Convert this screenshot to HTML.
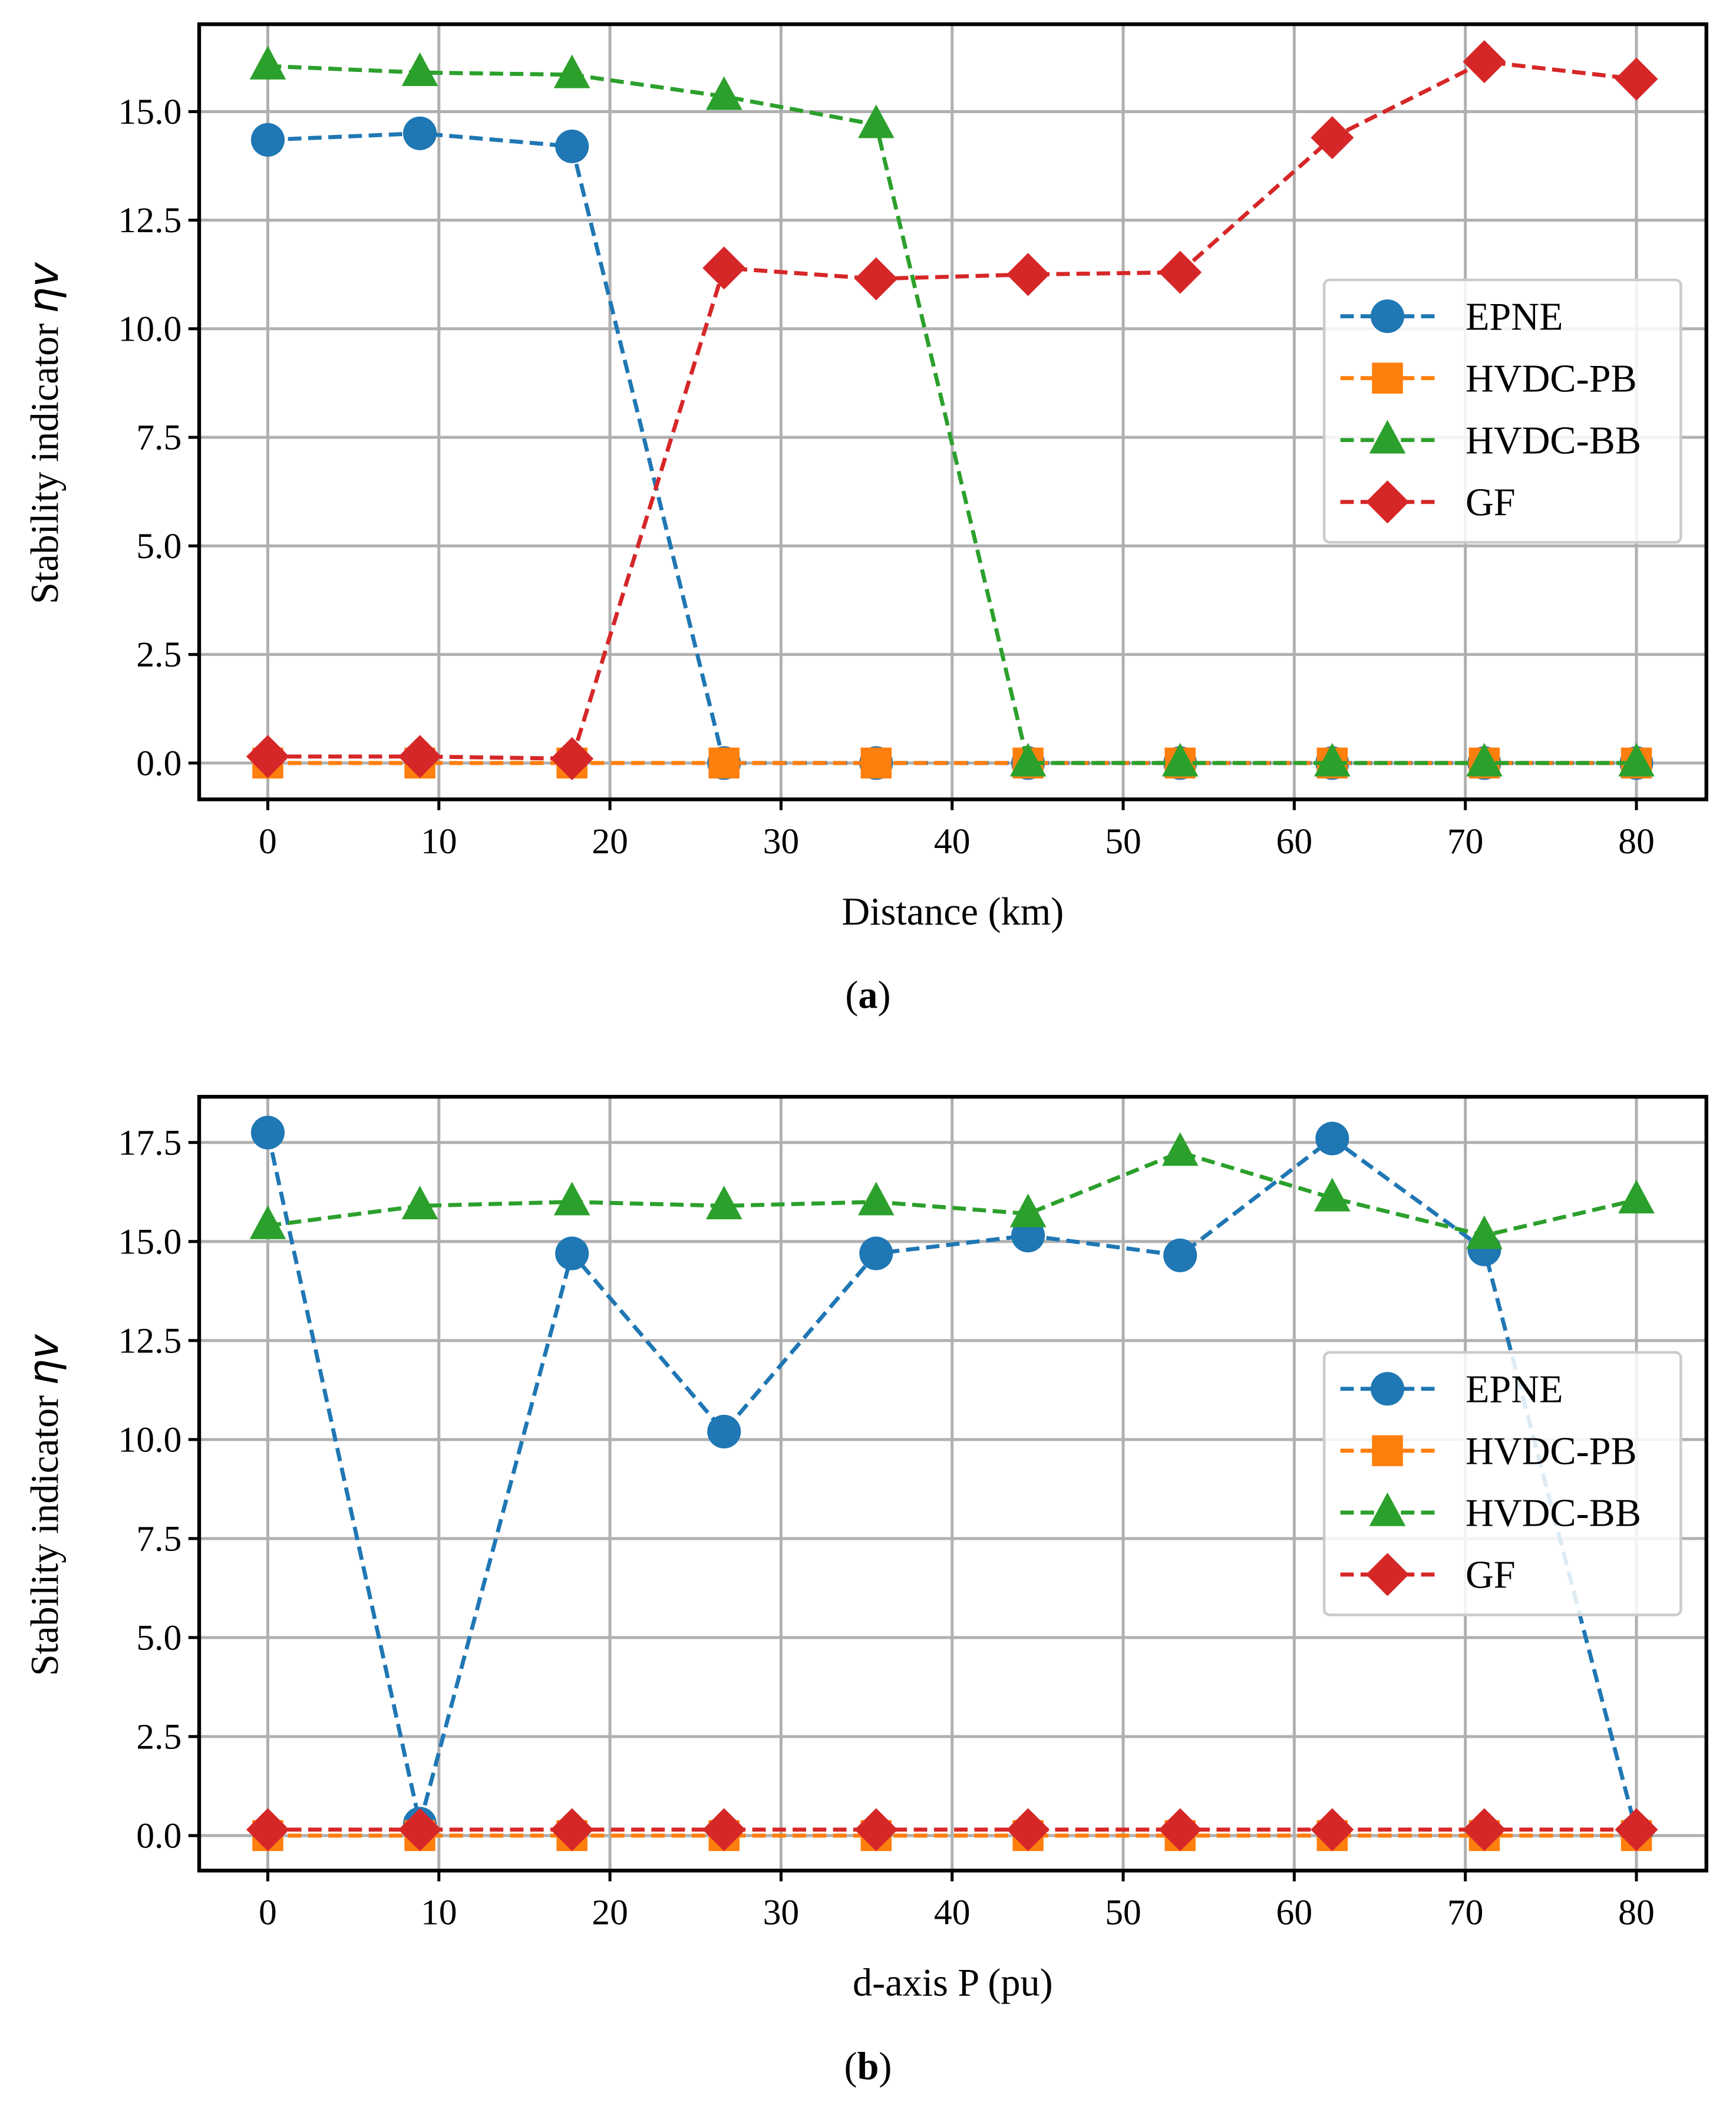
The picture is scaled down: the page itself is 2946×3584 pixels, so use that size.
<!DOCTYPE html>
<html><head><meta charset="utf-8"><style>
html,body{margin:0;padding:0;background:#fff}
svg{display:block}
text{font-family:"Liberation Serif",serif;fill:#000}
</style></head><body>
<svg id="fig" width="2946" height="3584" viewBox="0 0 1290 1569.4" preserveAspectRatio="none" xmlns="http://www.w3.org/2000/svg"></svg>
<script>
const xVals = [0, 8.89, 17.78, 26.67, 35.56, 44.44, 53.33, 62.22, 71.11, 80];
const xTicks = [0, 10, 20, 30, 40, 50, 60, 70, 80];
const seriesNames = ["EPNE", "HVDC-PB", "HVDC-BB", "GF"];
const aEPNE = [14.35, 14.5, 14.2, 0, 0, 0, 0, 0, 0, 0];
const aPB = [0, 0, 0, 0, 0, 0, 0, 0, 0, 0];
const aBB = [16.05, 15.9, 15.85, 15.35, 14.7, 0, 0, 0, 0, 0];
const aGF = [0.15, 0.15, 0.1, 11.4, 11.15, 11.25, 11.3, 14.4, 16.15, 15.75];
const aYTicks = [0, 2.5, 5, 7.5, 10, 12.5, 15];
const bEPNE = [17.75, 0.3, 14.7, 10.2, 14.7, 15.15, 14.65, 17.6, 14.8, 0.1];
const bPB = [0, 0, 0, 0, 0, 0, 0, 0, 0, 0];
const bBB = [15.4, 15.9, 16.0, 15.9, 16.0, 15.7, 17.25, 16.1, 15.15, 16.05];
const bGF = [0.15, 0.15, 0.15, 0.15, 0.15, 0.15, 0.15, 0.15, 0.15, 0.15];
const bYTicks = [0, 2.5, 5, 7.5, 10, 12.5, 15, 17.5];

const NS = "http://www.w3.org/2000/svg";
const svg = document.getElementById("fig");
const colors = ["#1f77b4", "#ff7f0e", "#2ca02c", "#d62728"];
function el(tag, attrs, parent) {
  const e = document.createElementNS(NS, tag);
  for (const k in attrs) e.setAttribute(k, attrs[k]);
  (parent || svg).appendChild(e);
  return e;
}
function marker(g, kind, cx, cy, c) {
  let m;
  if (kind === 0) m = el("circle", {cx: cx, cy: cy, r: 12.5, fill: c}, g);
  else if (kind === 1) m = el("rect", {x: cx - 11.5, y: cy - 11.5, width: 23, height: 23, fill: c}, g);
  else if (kind === 2) m = el("polygon", {points: `${cx},${cy-15} ${cx+13.5},${cy+10} ${cx-13.5},${cy+10}`, fill: c}, g);
  else m = el("polygon", {points: `${cx},${cy-16} ${cx+16},${cy} ${cx},${cy+16} ${cx-16},${cy}`, fill: c}, g);
  return m;
}
function fmt(v) { return v.toFixed(1); }

function panel(p, data, yTicks, xlabel, caption, legY) {
  const L = 148, R = 1268;
  const sx = v => 199 + (1216 - 199) * v / 80;
  const sy = v => p.y0 - v * p.k;
  const g = el("g", {});
  
  
  xTicks.forEach(t => {
    const gl = el("line", {x1: sx(t), x2: sx(t), y1: p.top, y2: p.bot, stroke: "#b0b0b0", "stroke-width": 2.2}, g);
    
    
    el("line", {x1: sx(t), x2: sx(t), y1: p.bot, y2: p.bot + 8, stroke: "#000", "stroke-width": 2.2}, g);
    const tl = el("text", {x: sx(t), y: p.bot + 40, "font-size": 27, "text-anchor": "middle"}, g);
    tl.textContent = t;
    
    
  });
  yTicks.forEach(t => {
    const gl = el("line", {x1: L, x2: R, y1: sy(t), y2: sy(t), stroke: "#b0b0b0", "stroke-width": 2.2}, g);
    
    
    el("line", {x1: L - 8, x2: L, y1: sy(t), y2: sy(t), stroke: "#000", "stroke-width": 2.2}, g);
    const tl = el("text", {x: L - 13, y: sy(t) + 9, "font-size": 27, "text-anchor": "end"}, g);
    tl.textContent = fmt(t);
    
    
  });
  data.forEach((arr, si) => {
    const pts = arr.map((v, i) => sx(xVals[i]) + "," + sy(v)).join(" ");
    const ln = el("polyline", {points: pts, fill: "none", stroke: colors[si], "stroke-width": 3, "stroke-dasharray": "10,5"}, g);
    
    
    arr.forEach((v, i) => {
      const m = marker(g, si, sx(xVals[i]), sy(v), colors[si]);
      
      
    });
  });
  el("rect", {x: L, y: p.top, width: R - L, height: p.bot - p.top, fill: "none", stroke: "#000", "stroke-width": 2.8}, g);
  const xl = el("text", {x: 708, y: p.bot + 93, "font-size": 29, "text-anchor": "middle"}, g);
  xl.textContent = xlabel;
  
  
  const cy = (p.top + p.bot) / 2 + 16;
  const yl = el("text", {x: 0, y: 0, "font-size": 29, "text-anchor": "middle", transform: `translate(43,${cy}) rotate(-90)`}, g);
  yl.innerHTML = 'Stability indicator <tspan font-style="italic" font-family="DejaVu Sans, sans-serif" font-size="31">ηv</tspan>';
  
  
  const cap = el("text", {x: 645, y: p.bot + 155, "font-size": 29, "text-anchor": "middle"}, g);
  cap.innerHTML = '(<tspan font-weight="bold">' + caption + '</tspan>)';
  
  
  const lg = el("g", {}, g);
  
  
  el("rect", {x: 984, y: legY, width: 265, height: 195, rx: 4, fill: "#fff", "fill-opacity": 0.85, stroke: "#ccc", "stroke-width": 2}, lg);
  seriesNames.forEach((n, si) => {
    const yy = legY + 27 + si * 46;
    const e = el("g", {}, lg);
    
    
    el("line", {x1: 996, x2: 1066, y1: yy, y2: yy, stroke: colors[si], "stroke-width": 3, "stroke-dasharray": "10,5"}, e);
    marker(e, si, 1031, yy, colors[si]);
    const t = el("text", {x: 1089, y: yy + 10, "font-size": 29}, e);
    t.textContent = n;
  });
}
panel({name: "panel-a", top: 18, bot: 594, y0: 567, k: 32.27}, [aEPNE, aPB, aBB, aGF], aYTicks, "Distance (km)", "a", 208);
panel({name: "panel-b", top: 815, bot: 1390, y0: 1364, k: 29.43}, [bEPNE, bPB, bBB, bGF], bYTicks, "d-axis P (pu)", "b", 1005);
</script>
</body></html>
